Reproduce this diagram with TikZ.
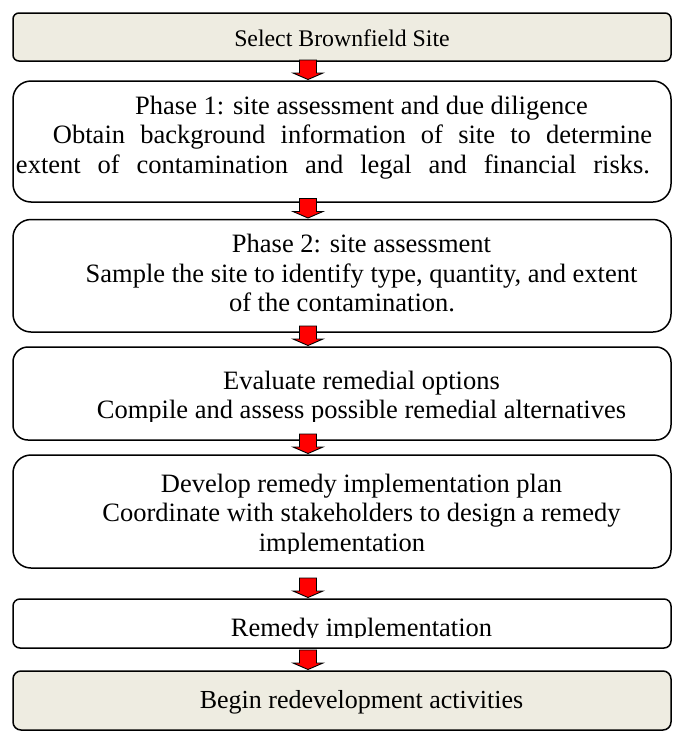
\documentclass[tikz,border=0pt]{standalone}
\usepackage{fontspec}
\setmainfont{Liberation Serif}
\usetikzlibrary{positioning,calc}

\definecolor{boxtan}{HTML}{EEECE1}
\newcommand{\bodyfont}{\fontsize{26.5pt}{29.3pt}\selectfont}
\newcommand{\selfont}{\fontsize{23.8pt}{27pt}\selectfont}
\newcommand{\pad}{\hspace*{39pt}}

% red block arrow between two steps
\newcommand{\flowarrow}[2]{%
  \filldraw[arrowred] let \p1=([xshift=-34pt]#1.south), \p2=(#2.north) in
    (\x1-8.5pt,\y2+21pt) -- (\x1+8.5pt,\y2+21pt) -- (\x1+8.5pt,\y2+8pt)
    -- (\x1+15pt,\y2+8pt) -- (\x1,\y2+1.5pt) -- (\x1-15pt,\y2+8pt)
    -- (\x1-8.5pt,\y2+8pt) -- cycle;}

\begin{document}
\begin{tikzpicture}[
    x=1pt, y=1pt,
    stepbox/.style={draw, line width=1.5pt, minimum width=658pt, inner sep=0pt, outer sep=0pt},
    startend/.style={stepbox, fill=boxtan},
    steptext/.style={anchor=north, inner sep=0pt, align=center, font=\bodyfont},
    arrowred/.style={fill=red, draw=black, line width=0.9pt}
]
\useasboundingbox (0,0) rectangle (677,-731);

\node[startend, rounded corners=6pt, minimum height=48pt, anchor=north] (sel) at (342,-13) {};
\node[stepbox, rounded corners=18pt, minimum height=121pt, below=20pt of sel] (ph1) {};
\node[stepbox, rounded corners=18pt, minimum height=112.5pt, below=17.5pt of ph1] (ph2) {};
\node[stepbox, rounded corners=15pt, minimum height=93pt, below=15pt of ph2] (eval) {};
\node[stepbox, rounded corners=18pt, minimum height=113pt, below=15pt of eval] (plan) {};
\node[stepbox, rounded corners=7pt, minimum height=49pt, below=31pt of plan] (impl) {};
\node[startend, rounded corners=8pt, minimum height=59pt, below=23pt of impl] (begin) {};

% texts
\node[steptext, font=\selfont] (seltxt) at ([yshift=-16.6pt]sel.north) {Select Brownfield Site};
\node[steptext] (ph1txt) at ([yshift=-15pt]ph1.north)
  {\pad Phase 1: site assessment and due diligence\\
   \hspace*{21pt}\makebox[599pt][s]{Obtain background information of site to determine}\\
   \makebox[634pt][s]{extent of contamination and legal and financial risks.}\hspace*{18pt}};
\node[steptext] (ph2txt) at ([yshift=-14.7pt]ph2.north)
  {\pad Phase 2: site assessment\\
   \pad Sample the site to identify type, quantity, and extent\\
   of the contamination.};
\begin{scope}
  \clip ([yshift=19pt]eval.south west) rectangle (eval.north east);
  \node[steptext] (evaltxt) at ([yshift=-24pt]eval.north)
    {\pad Evaluate remedial options\\
     \pad Compile and assess possible remedial alternatives};
\end{scope}
\begin{scope}
  \clip ([yshift=15pt]plan.south west) rectangle (plan.north east);
  \node[steptext] (plantxt) at ([yshift=-19pt]plan.north)
    {\pad Develop remedy implementation plan\\
     \pad Coordinate with stakeholders to design a remedy\\
     implementation};
\end{scope}
\begin{scope}
  \clip ([yshift=11pt]impl.south west) rectangle (impl.north east);
  \node[steptext] (impltxt) at ([yshift=-19pt]impl.north) {\pad Remedy implementation};
\end{scope}
\node[steptext, font=\fontsize{26pt}{29pt}\selectfont] (begintxt) at ([yshift=-19.2pt]begin.north)
  {\pad Begin redevelopment activities};

% arrows
\flowarrow{sel}{ph1}
\flowarrow{ph1}{ph2}
\flowarrow{ph2}{eval}
\flowarrow{eval}{plan}
\flowarrow{plan}{impl}
\flowarrow{impl}{begin}

\end{tikzpicture}
\end{document}
